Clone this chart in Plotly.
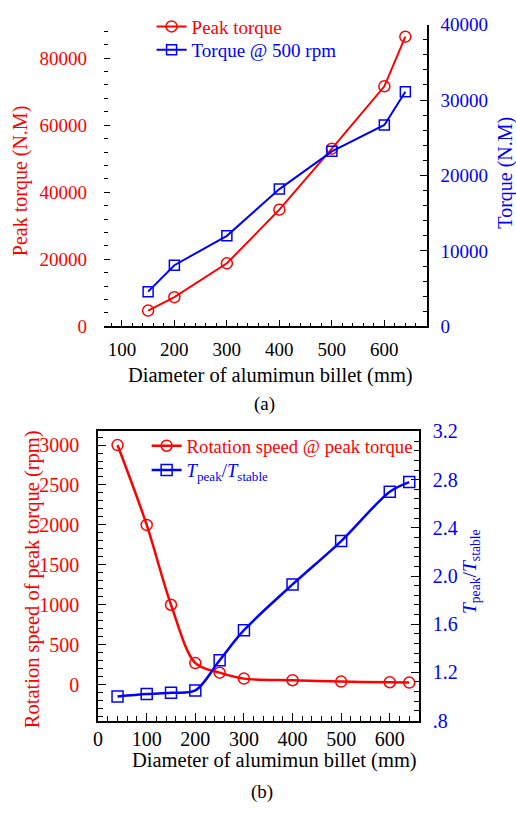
import plotly.graph_objects as go

# ---- (a) torque versus billet diameter ----
diam_a = [150, 200, 300, 400, 500, 600, 640]
peak_torque = [4700, 8700, 18800, 34800, 53000, 71600, 86400]
torque_500rpm = [4600, 8100, 12000, 18200, 23200, 26700, 31100]

# ---- (b) rotation speed and torque ratio versus billet diameter ----
diam_b = [40, 100, 150, 200, 250, 300, 400, 500, 600, 640]
rot_speed = [3000, 2000, 1000, 270, 150, 75, 55, 38, 30, 25]
torque_ratio = [1.00, 1.02, 1.03, 1.05, 1.30, 1.55, 1.93, 2.29, 2.70, 2.78]

ratio_ticks = [0.8, 1.2, 1.6, 2.0, 2.4, 2.8, 3.2]
ratio_labels = [".8", "1.2", "1.6", "2.0", "2.4", "2.8", "3.2"]

RED = "#ff0000"
BLUE = "#0000ff"
SERIF = "Liberation Serif, Times New Roman, serif"
W, H = 516, 824


def px(x):
    return x / W


def py(y):
    return 1 - y / H


def colored(text, color):
    return f"<span style='color:{color}'>{text}</span>"


fig = go.Figure()

fig.add_trace(go.Scatter(
    x=diam_a, y=peak_torque, name=colored("Peak torque", RED), mode="lines+markers",
    line=dict(color=RED, width=2),
    marker=dict(symbol="circle-open", size=11, color=RED, line=dict(width=1.5)),
    xaxis="x", yaxis="y", legend="legend"))
fig.add_trace(go.Scatter(
    x=diam_a, y=torque_500rpm, name=colored("Torque @ 500 rpm", BLUE),
    mode="lines+markers",
    line=dict(color=BLUE, width=2),
    marker=dict(symbol="square-open", size=10, color=BLUE, line=dict(width=1.5)),
    xaxis="x", yaxis="y2", legend="legend2"))

fig.add_trace(go.Scatter(
    x=diam_b, y=rot_speed, name=colored("Rotation speed @ peak torque", RED),
    mode="lines+markers",
    line=dict(color=RED, width=2.5, shape="spline", smoothing=0.9),
    marker=dict(symbol="circle-open", size=11, color=RED, line=dict(width=1.5)),
    xaxis="x2", yaxis="y3", legend="legend3"))
fig.add_trace(go.Scatter(
    x=diam_b, y=torque_ratio,
    name=colored("<i>T</i><sub>peak</sub>/<i>T</i><sub>stable</sub>", BLUE),
    mode="lines+markers",
    line=dict(color=BLUE, width=2.5, shape="spline", smoothing=0.9),
    marker=dict(symbol="square-open", size=11, color=BLUE, line=dict(width=1.5)),
    xaxis="x2", yaxis="y4", legend="legend4"))

axis_common = dict(showgrid=False, zeroline=False, linecolor="black", linewidth=1.5,
                   tickcolor="black", tickwidth=1.2)

dom_a_x = [px(100), px(426)]
dom_a_y = [py(324), py(14)]
dom_b_x = [px(94), px(418)]
dom_b_y = [py(729), py(432)]


def legend_at(x, y, size):
    return dict(x=px(x), y=py(y), xanchor="left", yanchor="middle",
                bgcolor="rgba(0,0,0,0)", borderwidth=0,
                font=dict(family=SERIF, size=size))


fig.update_layout(
    width=W, height=H, margin=dict(l=0, r=0, t=0, b=0),
    paper_bgcolor="white", plot_bgcolor="white",
    font=dict(family=SERIF),
    xaxis=dict(domain=dom_a_x, anchor="y", range=[66, 681],
               tickvals=[100, 200, 300, 400, 500, 600], showline=True,
               ticks="inside", ticklen=7, ticklabelstandoff=5,
               minor=dict(dtick=20, ticks="inside", ticklen=4, tickcolor="black"),
               tickfont=dict(family=SERIF, size=19, color="black"), **axis_common),
    yaxis=dict(domain=dom_a_y, anchor="x", range=[0, 90000],
               tickvals=[0, 20000, 40000, 60000, 80000], tickformat="d",
               showline=False, ticks="inside", ticklen=6, ticklabelstandoff=16,
               minor=dict(dtick=4000, ticks="inside", ticklen=4, tickcolor="black"),
               tickfont=dict(family=SERIF, size=19, color=RED), **axis_common),
    yaxis2=dict(domain=dom_a_y, anchor="x", overlaying="y", side="right",
                range=[0, 40000], tickvals=[0, 10000, 20000, 30000, 40000],
                tickformat="d",
                showline=True, ticks="inside", ticklen=7, ticklabelstandoff=8,
                minor=dict(dtick=2000, ticks="inside", ticklen=4, tickcolor="black"),
                tickfont=dict(family=SERIF, size=19, color=BLUE), **axis_common),
    xaxis2=dict(domain=dom_b_x, anchor="y3", range=[0, 660],
                tickvals=[0, 100, 200, 300, 400, 500, 600], showline=True, mirror=True,
                ticks="inside", ticklen=8, ticklabelstandoff=0,
                minor=dict(dtick=20, ticks="inside", ticklen=5, tickcolor="black"),
                tickfont=dict(family=SERIF, size=20, color="black"), **axis_common),
    yaxis3=dict(domain=dom_b_y, anchor="x2", range=[-450, 3170],
                tickvals=[0, 500, 1000, 1500, 2000, 2500, 3000], showline=True,
                ticks="inside", ticklen=8, ticklabelstandoff=13,
                minor=dict(dtick=100, ticks="inside", ticklen=5, tickcolor="black"),
                tickfont=dict(family=SERIF, size=20, color=RED), **axis_common),
    yaxis4=dict(domain=dom_b_y, anchor="x2", overlaying="y3", side="right",
                range=[0.8, 3.2], tickvals=ratio_ticks, ticktext=ratio_labels,
                showline=True, ticks="inside", ticklen=8, ticklabelstandoff=8,
                minor=dict(dtick=0.08, tick0=0.8, ticks="inside", ticklen=5,
                           tickcolor="black"),
                tickfont=dict(family=SERIF, size=20, color=BLUE), **axis_common),
    legend=legend_at(148, 16, 19),
    legend2=legend_at(148, 40, 19),
    legend3=legend_at(143, 447, 18.7),
    legend4=legend_at(143, 472, 18.7),
    showlegend=True,
)

annos = [
    dict(text="Peak torque (N.M)", x=px(16), y=py(174), textangle=-90,
         font=dict(family=SERIF, size=20, color=RED)),
    dict(text="Torque (N.M)", x=px(505), y=py(166), textangle=-90,
         font=dict(family=SERIF, size=20, color=BLUE)),
    dict(text="Diameter of alumimun billet (mm)", x=px(268), y=py(375),
         font=dict(family=SERIF, size=20.5, color="black")),
    dict(text="(a)", x=px(262), y=py(404),
         font=dict(family=SERIF, size=19, color="black")),
    dict(text="Rotation speed of peak torque (rpm)", x=px(28), y=py(584), textangle=-90,
         font=dict(family=SERIF, size=20.5, color=RED)),
    dict(text="<i>T</i><sub>peak</sub>/<i>T</i><sub>stable</sub>", x=px(470), y=py(576),
         textangle=-90, font=dict(family=SERIF, size=19.5, color=BLUE)),
    dict(text="Diameter of alumimun billet (mm)", x=px(272), y=py(770),
         font=dict(family=SERIF, size=20.5, color="black")),
    dict(text="(b)", x=px(260), y=py(802),
         font=dict(family=SERIF, size=19, color="black")),
]
for a in annos:
    fig.add_annotation(xref="paper", yref="paper", showarrow=False,
                       xanchor="center", yanchor="middle", **a)

fig.write_html("out.html")
